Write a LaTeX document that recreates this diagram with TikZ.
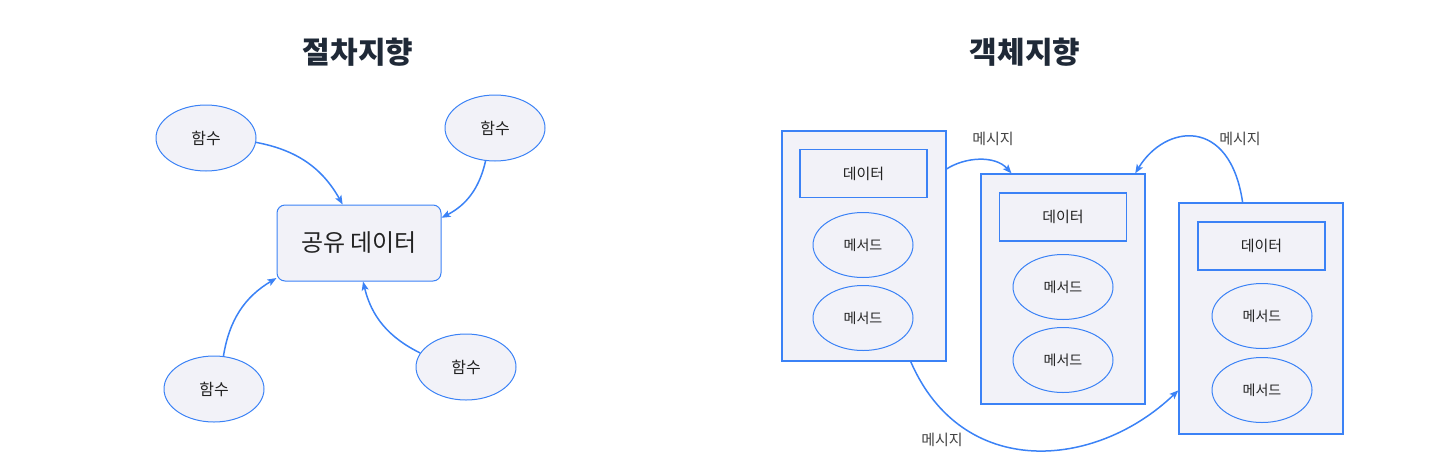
\documentclass[tikz,border=0pt]{standalone}
\usepackage{fontspec}
\setmainfont{Noto Sans CJK KR}
\usetikzlibrary{shapes.geometric,arrows.meta}
\definecolor{edge}{HTML}{3B82F6}
\definecolor{fillc}{HTML}{F2F2F8}
\definecolor{titlec}{HTML}{1F2937}
\definecolor{txt}{HTML}{222222}
\tikzset{
  fn/.style={ellipse,draw=edge,fill=fillc,line width=1pt,minimum width=100pt,minimum height=66pt,inner sep=0pt,text=txt,font=\fontsize{16}{18}\selectfont},
  meth/.style={ellipse,draw=edge,fill=fillc,line width=1pt,minimum width=100pt,minimum height=65pt,inner sep=0pt,text=txt,font=\fontsize{14}{16}\selectfont},
  objbox/.style={rectangle,draw=edge,fill=fillc,line width=1.2pt,minimum width=164pt,minimum height=230pt,inner sep=0pt},
  databox/.style={rectangle,draw=edge,fill=fillc,line width=1.2pt,minimum width=127pt,minimum height=48pt,inner sep=0pt,text=txt,font=\fontsize{15}{17}\selectfont},
  shared/.style={rectangle,rounded corners=8pt,draw=edge,fill=fillc,line width=1pt,minimum width=164pt,minimum height=76pt,inner sep=0pt,text=txt,font=\fontsize{24}{28}\selectfont},
  titletxt/.style={text=titlec,font=\fontsize{30}{34}\selectfont\bfseries},
  msg/.style={text=txt!85,font=\fontsize{15}{17}\selectfont},
  conn/.style={draw=edge,line width=1.5pt,-{Stealth[length=9pt,width=7pt,inset=2pt]}}
}
\begin{document}
\begin{tikzpicture}[x=1pt,y=-1pt]
\useasboundingbox (0,0) rectangle (1450,464);
% left
\node[titletxt] (t1) at (358,52) {절차지향};
\node[shared] (R) at (359,243) {공유 데이터};
\node[fn] (E1) at (206,138) {함수};
\node[fn] (E2) at (495,128) {함수};
\node[fn] (E3) at (214,389) {함수};
\node[fn] (E4) at (466,367) {함수};
\draw[conn] (E1.-5) to[bend left=25] (R.113);
\draw[conn] (E2.-106) to[bend left=25] (R.17);
\draw[conn] (E3.74) to[bend left=25] (R.203);
\draw[conn] (E4.163) to[bend left=25] (R.-84);
% right
\node[titletxt] (t2) at (1025,52) {객체지향};
\node[objbox] (A) at (864,246) {};
\node[databox] (Ad) at (863.5,173.5) {데이터};
\node[meth] (Am1) at (863,245) {메서드};
\node[meth] (Am2) at (863,318) {메서드};
\node[objbox] (B) at (1063,289) {};
\node[databox] (Bd) at (1063,217) {데이터};
\node[meth] (Bm1) at (1063,287) {메서드};
\node[meth] (Bm2) at (1063,360) {메서드};
\node[objbox,minimum height=231pt] (C) at (1261,318.5) {};
\node[databox] (Cd) at (1261.5,246) {데이터};
\node[meth] (Cm1) at (1262,316) {메서드};
\node[meth] (Cm2) at (1262,390) {메서드};
\draw[conn] (A.43) .. controls (965,157) and (995,155) .. (B.114);
\draw[conn] (C.99) .. controls (1230,116) and (1165,124) .. (B.58);
\draw[conn] (A.-68) .. controls (962,480) and (1095,470) .. (C.221);
\node[msg] (m1) at (993,139) {메시지};
\node[msg] (m2) at (1240,139) {메시지};
\node[msg] (m3) at (942,440) {메시지};
\end{tikzpicture}
\end{document}
